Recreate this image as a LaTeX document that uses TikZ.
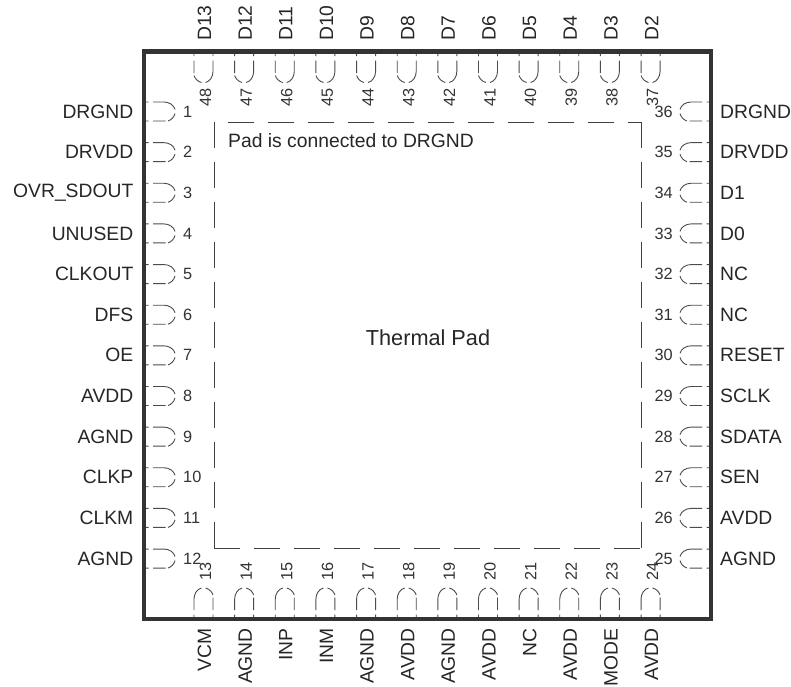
\documentclass[tikz,border=0pt]{standalone}
\usepackage{fontspec}
\setmainfont{Liberation Sans}
\tikzset{
  x=1pt,y=-1pt,
  wall/.style={draw=black!80,line width=4.5pt,miter limit=10},
  padline/.style={draw=black!75,line width=1pt,dash pattern=on 26pt off 14pt},
  pinline/.style={draw=black!70,line width=0.9pt},
  name label/.style={font=\fontsize{19.3}{22}\selectfont,text=black!85,inner sep=0pt},
  num label/.style={font=\fontsize{16.3}{18}\selectfont,text=black!80,inner sep=0pt},
  pad label/.style={font=\fontsize{19.3}{22}\selectfont,text=black!85,inner sep=0pt}
}
\newcommand{\pinshape}{%
  \draw[pinline] (2,-9.5) -- (4.5,-9.5) (9,-9.5) -- (20,-9.5) .. controls (25,-9.5) and (30,-6.5) .. (31,-2)
     (31,2) .. controls (30,6) and (27,8.5) .. (24,9.5) (21.5,9.5) -- (9,9.5) (4.5,9.5) -- (2,9.5);%
}
\begin{document}
\begin{tikzpicture}
\useasboundingbox (0,0) rectangle (791,686);
\path[fill=white] (0,0) rectangle (791,686);
\draw[wall] (144,51.5) rectangle (711,619);
\draw[padline] (214,122) -- (214,548);
\draw[padline] (214,548) -- (641,548);
\draw[padline] (641,122) -- (641,548);
\draw[padline] (228,122) -- (641,122);
\node[pad label,anchor=west] (padnote) at (228,141) {Pad is connected to DRGND};
\node[pad label,font=\fontsize{21.7}{24}\selectfont] (thermal) at (428,338) {Thermal Pad};
\foreach \n/\t [count=\i from 0] in {1/DRGND,2/DRVDD,3/OVR\_SDOUT,4/UNUSED,5/CLKOUT,6/DFS,7/OE,8/AVDD,9/AGND,10/CLKP,11/CLKM,12/AGND}{
  \pgfmathsetmacro{\yy}{111.5+40.64*\i}
  \begin{scope}[shift={(144,\yy)}]\pinshape\end{scope}
  \node[name label,anchor=east] (lname\n) at (133.5,\yy) {\t};
  \node[num label,anchor=west] (lnum\n) at (183,\yy) {\n};
}
\foreach \n/\t [count=\i from 0] in {36/DRGND,35/DRVDD,34/D1,33/D0,32/NC,31/NC,30/RESET,29/SCLK,28/SDATA,27/SEN,26/AVDD,25/AGND}{
  \pgfmathsetmacro{\yy}{111.5+40.64*\i}
  \begin{scope}[shift={(711,\yy)},xscale=-1]\pinshape\end{scope}
  \node[name label,anchor=west] (rname\n) at (720,\yy) {\t};
  \node[num label,anchor=east] (rnum\n) at (673,\yy) {\n};
}
\foreach \n/\t [count=\i from 0] in {48/D13,47/D12,46/D11,45/D10,44/D9,43/D8,42/D7,41/D6,40/D5,39/D4,38/D3,37/D2}{
  \pgfmathsetmacro{\xx}{203.5+40.64*\i}
  \begin{scope}[shift={(\xx,51.5)},rotate=-90]\pinshape\end{scope}
  \node[name label,rotate=90,anchor=west] (tname\n) at (\xx+1,41) {\t};
  \node[num label,rotate=90,anchor=east] (tnum\n) at (\xx+2,88) {\n};
}
\foreach \n/\t [count=\i from 0] in {13/VCM,14/AGND,15/INP,16/INM,17/AGND,18/AVDD,19/AGND,20/AVDD,21/NC,22/AVDD,23/MODE,24/AVDD}{
  \pgfmathsetmacro{\xx}{203.5+40.64*\i}
  \begin{scope}[shift={(\xx,619)},rotate=90]\pinshape\end{scope}
  \node[name label,rotate=90,anchor=east] (bname\n) at (\xx+1,628) {\t};
  \node[num label,rotate=90,anchor=west] (bnum\n) at (\xx+2,581) {\n};
}
\end{tikzpicture}
\end{document}
